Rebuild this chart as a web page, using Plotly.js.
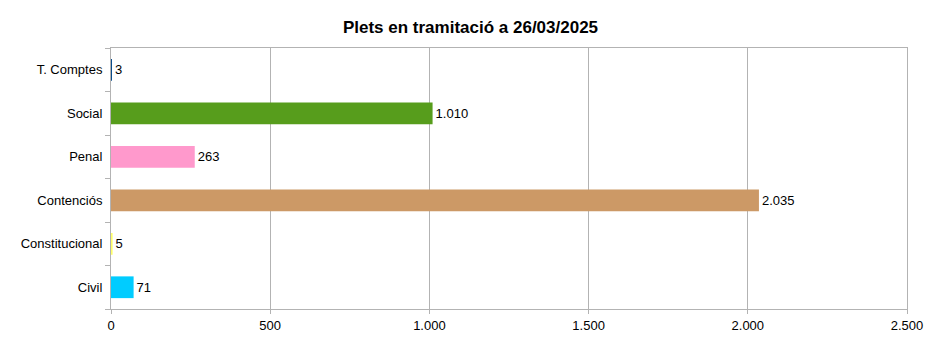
<!DOCTYPE html>
<html>
<head>
<meta charset="utf-8">
<script src="https://cdn.plot.ly/plotly-3.0.1.min.js"></script>
<style>html,body{margin:0;padding:0;background:#fff;}#chart{width:941px;height:341px;}</style>
</head>
<body>
<div id="chart"></div>
<script>
const categories = ["Civil", "Constitucional", "Contenciós", "Penal", "Social", "T. Comptes"];
const values = [71, 5, 2035, 263, 1010, 3];
const colors = ["#00ccff", "#ffff66", "#cc9966", "#ff99cc", "#579d1c", "#004586"];
const titleText = "Plets en tramitació a 26/03/2025";
const xTicks = [0, 500, 1000, 1500, 2000, 2500];

const trace = {
  type: "bar",
  orientation: "h",
  y: categories,
  x: values,
  width: 0.5,
  marker: {color: colors, line: {width: 0}},
  text: values,
  texttemplate: "%{x:,}",
  textposition: "outside",
  textfont: {family: "Liberation Sans, Arial, sans-serif", size: 13, color: "#000"},
  cliponaxis: false,
  hoverinfo: "none"
};

const layout = {
  width: 941, height: 341,
  margin: {l: 111, r: 34, t: 48, b: 32},
  paper_bgcolor: "#fff", plot_bgcolor: "#fff",
  separators: ",.",
  font: {family: "Liberation Sans, Arial, sans-serif", size: 13, color: "#000"},
  title: {text: "<b>" + titleText + "</b>", x: 0.5, xanchor: "center", y: 0.922, yanchor: "middle",
          font: {size: 17, color: "#000"}},
  showlegend: false,
  bargap: 0.5,
  xaxis: {
    range: [0, 2500], tickvals: xTicks, tickformat: ",",
    showgrid: true, gridcolor: "#b3b3b3", gridwidth: 1,
    showline: true, linecolor: "#b3b3b3", mirror: true,
    ticks: "outside", ticklen: 4, tickcolor: "#b3b3b3",
    tickfont: {size: 13},
    zeroline: false, fixedrange: true
  },
  yaxis: {
    type: "category", categoryorder: "array", categoryarray: categories,
    showgrid: false, showline: true, linecolor: "#b3b3b3", mirror: true,
    ticks: "outside", tickson: "boundaries", ticklen: 5, tickcolor: "#b3b3b3",
    tickfont: {size: 13},
    ticklabelstandoff: 5, fixedrange: true
  }
};

Plotly.newPlot("chart", [trace], layout, {displayModeBar: false, staticPlot: true});
</script>
</body>
</html>
